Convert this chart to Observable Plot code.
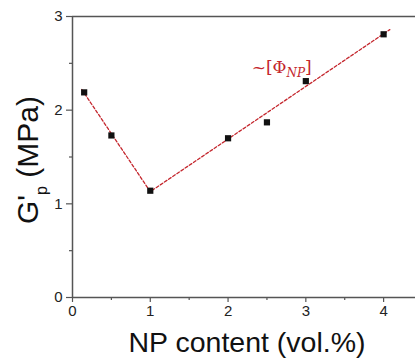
<!DOCTYPE html>
<html><head><meta charset="utf-8">
<script src="https://cdn.jsdelivr.net/npm/d3@7"></script>
<script src="https://cdn.jsdelivr.net/npm/@observablehq/plot@0.6"></script>
<style>
body{margin:0;background:#fff;}
</style>
</head><body><div id="chart"></div>
<script>
const npContent = [0.15, 0.5, 1.0, 2.0, 2.5, 3.0, 4.0];
const gPrime = [2.19, 1.73, 1.14, 1.70, 1.87, 2.31, 2.81];
const fitX = [0.12, 1.0, 4.08];
const fitY = [2.22, 1.13, 2.86];
const xTicks = [0, 1, 2, 3, 4];
const xMinor = [0.5, 1.5, 2.5, 3.5];
const yTicks = [0, 1, 2, 3];
const yMinor = [0.5, 1.5, 2.5];
const annotation = {x: 2.69, y: 2.46, main: "~[Φ", sub: "NP", close: "]"};

const pts = npContent.map((x, i) => ({x, y: gPrime[i]}));
const fit = fitX.map((x, i) => ({x, y: fitY[i]}));
const axisColor = "#555";
const red = "#c4262d";
const intFmt = d3.format("d");

const chart = Plot.plot({
  width: 415, height: 364,
  marginLeft: 72, marginRight: 0, marginTop: 16, marginBottom: 67,
  style: {fontFamily: "'Liberation Sans', Arial, sans-serif", background: "#fff"},
  x: {domain: [0, 4.41]},
  y: {domain: [0, 3]},
  marks: [
    Plot.axisX({ticks: xTicks, tickFormat: intFmt, tickSize: 5, tickPadding: 3, fontSize: 15, color: "#222", stroke: axisColor, strokeWidth: 1.2, label: null}),
    Plot.axisX({ticks: xMinor, tickSize: 3, tickFormat: () => "", stroke: axisColor, strokeWidth: 1.2, label: null}),
    Plot.axisY({ticks: yTicks, tickFormat: intFmt, tickSize: 6, tickPadding: 4, fontSize: 15, color: "#222", stroke: axisColor, strokeWidth: 1.2, label: null}),
    Plot.axisY({ticks: yMinor, tickSize: 3, tickFormat: () => "", stroke: axisColor, strokeWidth: 1.2, label: null}),
    Plot.ruleX([0], {stroke: axisColor, strokeWidth: 1.5}),
    Plot.ruleY([0, 3], {stroke: axisColor, strokeWidth: 1.5}),
    Plot.line(fit, {x: "x", y: "y", stroke: red, strokeWidth: 1.3, strokeDasharray: "3,2"}),
    Plot.dot(pts, {x: "x", y: "y", symbol: "square", r: 3.5, fill: "#111", stroke: "none"}),
    Plot.text([annotation], {x: "x", y: "y", text: d => d.main, fill: red, fontSize: 17, fontFamily: "'DejaVu Serif', serif"})
  ]
});

document.getElementById("chart").appendChild(chart);
const svg = d3.select(chart);

// annotation with subscript
svg.selectAll("text").filter(function(){ return this.textContent === annotation.main; }).each(function(){
  const t = d3.select(this);
  t.text(null);
  t.append("tspan").text(annotation.main);
  t.append("tspan").attr("font-size", 12).attr("font-style", "italic").attr("dy", 4).text(annotation.sub);
  t.append("tspan").attr("dy", -4).text(annotation.close);
});

// axis titles
svg.append("text")
  .attr("x", 247).attr("y", 352)
  .attr("text-anchor", "middle")
  .attr("font-size", 28.5)
  .attr("fill", "#111")
  .attr("font-family", "'Liberation Sans', Arial, sans-serif")
  .text("NP content (vol.%)");

const yl = svg.append("text")
  .attr("transform", "translate(38,160) rotate(-90)")
  .attr("text-anchor", "middle")
  .attr("font-size", 30)
  .attr("fill", "#111")
  .attr("font-family", "'Liberation Sans', Arial, sans-serif");
yl.append("tspan").text("G'");
yl.append("tspan").attr("font-size", 16).attr("dy", 9).text("p");
yl.append("tspan").attr("dy", -9).text(" (MPa)");
</script>
</body></html>
